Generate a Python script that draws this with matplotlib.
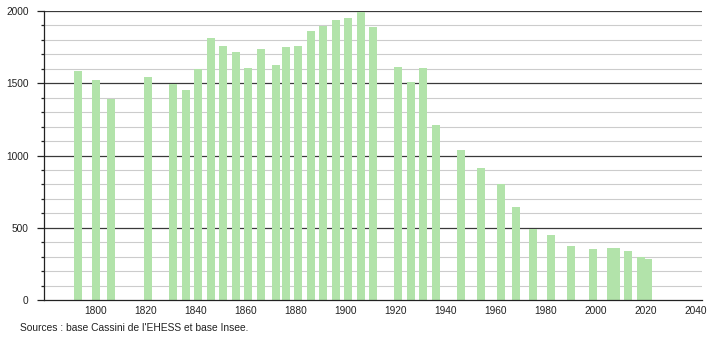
import matplotlib
matplotlib.use("Agg")
import matplotlib.pyplot as plt
from matplotlib.ticker import MultipleLocator

plt.rcParams['font.family'] = ['Liberation Sans', 'DejaVu Sans']

# 人口推移（Cassini / Insee）
years = [1793, 1800, 1806, 1821, 1831, 1836, 1841, 1846, 1851, 1856,
         1861, 1866, 1872, 1876, 1881, 1886, 1891, 1896, 1901, 1906,
         1911, 1921, 1926, 1931, 1936, 1946, 1954, 1962, 1968, 1975,
         1982, 1990, 1999, 2006, 2008, 2013, 2018, 2021]
population = [1587, 1522, 1393, 1541, 1495, 1451, 1601, 1811, 1755, 1714,
              1608, 1735, 1624, 1749, 1755, 1859, 1898, 1935, 1949, 1991,
              1887, 1610, 1509, 1603, 1209, 1036, 911, 803, 641, 491,
              448, 374, 353, 358, 360, 339, 295, 282]
x_ticks = [1800, 1820, 1840, 1860, 1880, 1900, 1920, 1940, 1960, 1980, 2000, 2020, 2040]
y_ticks = [0, 500, 1000, 1500, 2000]
source_text = "Sources : base Cassini de l'EHESS et base Insee."

fig = plt.figure(figsize=(7.1, 3.4), dpi=100)
ax = fig.add_axes([0.062, 0.1176, 0.9267, 0.85])

ax.bar(years, population, width=3.1, color="#b2e3aa", zorder=2)

ax.set_xlim(1779.3, 2042.5)
ax.set_ylim(0, 2000)

# grid: 100ごとに薄い線、500ごとに濃い線
for v in range(100, 2001, 100):
    if v % 500 == 0:
        ax.axhline(v, color="#3a3a3a", lw=0.9, zorder=1)
    else:
        ax.axhline(v, color="#cccccc", lw=0.8, zorder=1)

ax.set_xticks(x_ticks)
ax.set_yticks(y_ticks)
ax.yaxis.set_minor_locator(MultipleLocator(100))
ax.tick_params(axis="x", length=0, labelsize=7.3, pad=4, colors="#222222")
ax.tick_params(axis="y", which="major", length=5, width=0.9, labelsize=7.3, pad=6, colors="#222222")
ax.tick_params(axis="y", which="minor", length=2.5, width=0.9, colors="#222222")

for s in ["top", "right"]:
    ax.spines[s].set_visible(False)
ax.spines["left"].set_color("#222222")
ax.spines["bottom"].set_color("#222222")
ax.spines["left"].set_linewidth(0.9)
ax.spines["bottom"].set_linewidth(0.9)

fig.text(0.028, 0.035, source_text, fontsize=7.4, color="#222222", ha="left", va="center")

fig.savefig("out.png", dpi=100)
